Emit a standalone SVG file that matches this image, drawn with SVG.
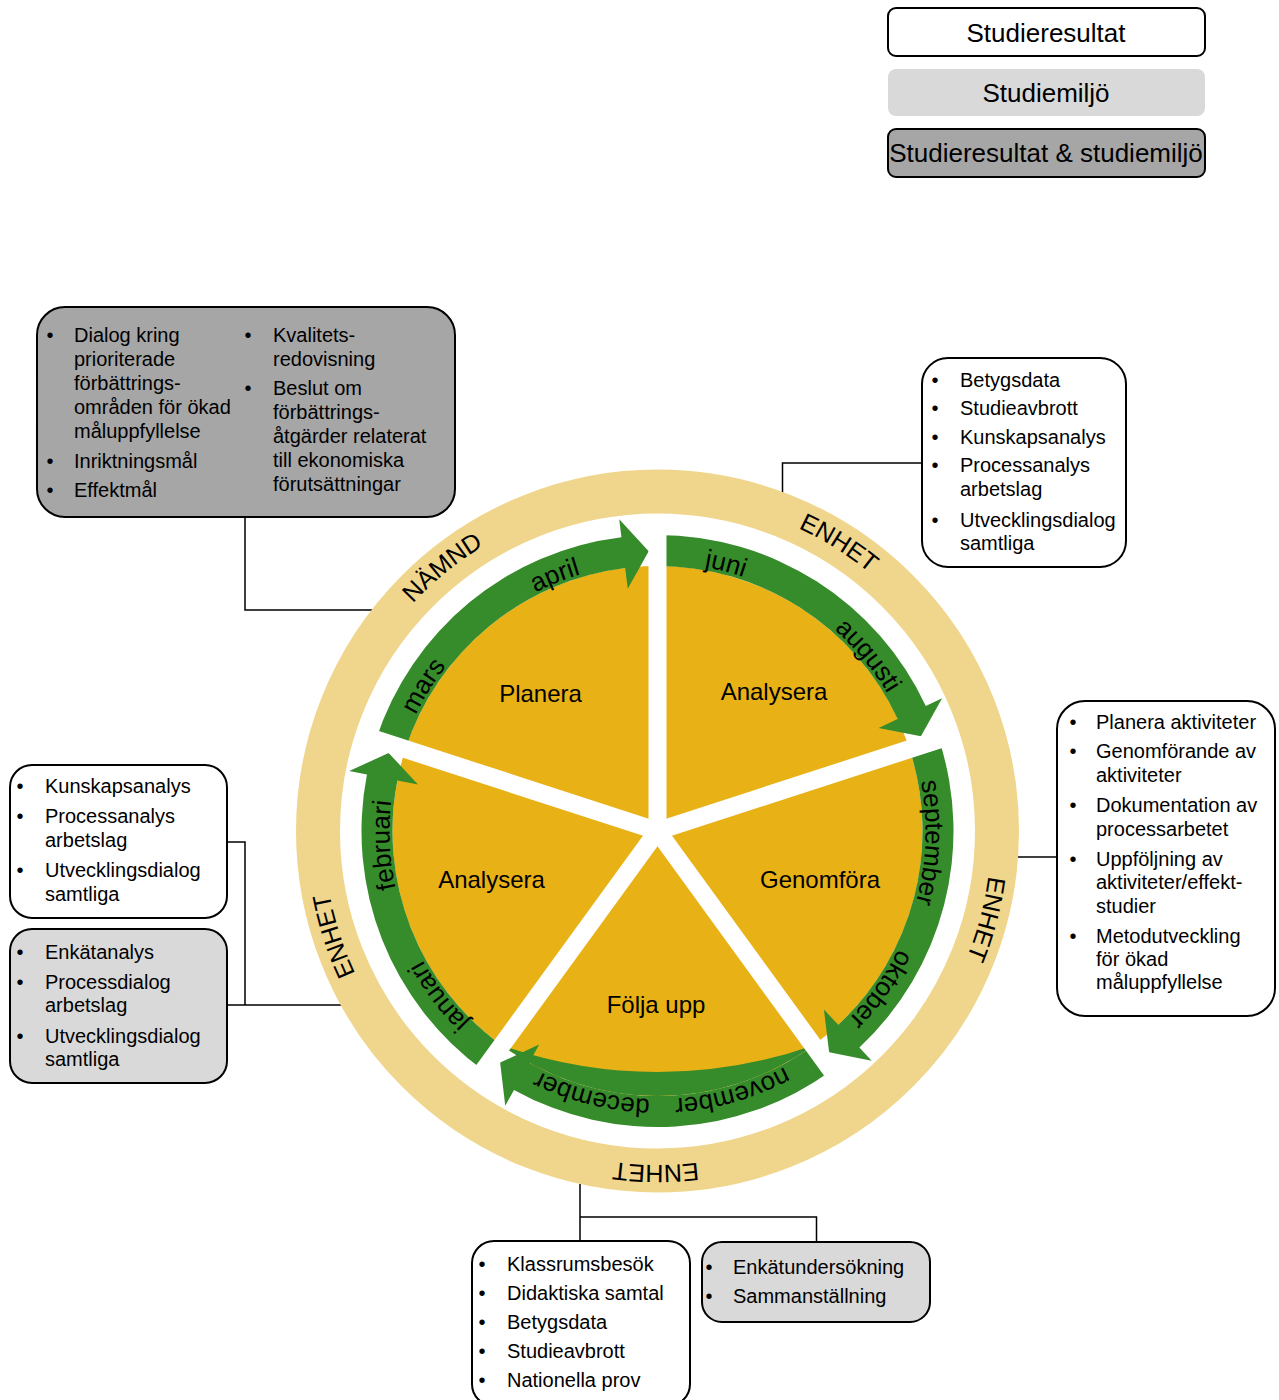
<svg xmlns="http://www.w3.org/2000/svg" width="1279" height="1400" viewBox="0 0 1279 1400">
<defs>
<style>
text { font-family: "Liberation Sans", Arial, sans-serif; fill: #000; }
.box { stroke: #000; stroke-width: 2; }
.t20 { font-size: 20px; }
.bul { font-size: 20px; text-anchor: middle; }
.conn { fill: none; stroke: #000; stroke-width: 1.5; }
.ring { font-size: 25px; text-anchor: middle; }
.mon { font-size: 26px; text-anchor: middle; }
.seg { font-size: 24px; text-anchor: middle; }
.leg { font-size: 26px; text-anchor: middle; }
.spoke { stroke: #fff; stroke-width: 18; }
</style>
<path id="ringPath" d="M657.5,497 A334,334 0 1 1 657.5,1165 A334,334 0 1 1 657.5,497"/>
<path id="monPath" d="M657.5,563 A268,268 0 1 1 657.5,1099 A268,268 0 1 1 657.5,563"/>
<path id="arrow" fill="#368B2A" d="M657.5,535 A296,296 0 0 1 925.77,705.90 L942.08,698.30 L920.95,736.15 L878.64,727.88 L897.67,719.00 A265,265 0 0 0 657.5,566 Z"/>
</defs>
<rect x="0" y="0" width="1279" height="1400" fill="#fff"/>

<g id="connectors">
<path class="conn" d="M245,517 V610 H372"/>
<path class="conn" d="M922,463 H782.5 V493"/>
<path class="conn" d="M1018,857 H1057"/>
<path class="conn" d="M227,842 H245 V1005 M227,1005 H341"/>
<path class="conn" d="M580,1184 V1241 M580,1217 H816.5 V1242"/>
</g>

<g id="wheel">
<circle cx="657.5" cy="831" r="339.5" fill="none" stroke="#F0D68C" stroke-width="44"/>
<circle cx="657.5" cy="831" r="265" fill="#E8B116"/>
<use href="#arrow"/>
<use href="#arrow" transform="rotate(72 657.5 831)"/>
<use href="#arrow" transform="rotate(144 657.5 831)"/>
<use href="#arrow" transform="rotate(216 657.5 831)"/>
<use href="#arrow" transform="rotate(288 657.5 831)"/>
<path fill="#368B2A" d="M813.26,1045.39 A265,265 0 0 1 501.74,1045.39 A469.2,469.2 0 0 0 813.26,1045.39 Z"/>
<line class="spoke" x1="657.5" y1="831" x2="657.5" y2="515"/>
<line class="spoke" x1="657.5" y1="831" x2="958.03" y2="733.35"/>
<line class="spoke" x1="657.5" y1="831" x2="843.24" y2="1086.65"/>
<line class="spoke" x1="657.5" y1="831" x2="471.76" y2="1086.65"/>
<line class="spoke" x1="657.5" y1="831" x2="356.97" y2="733.35"/>
<text class="ring"><textPath href="#ringPath" startOffset="89.11%">NÄMND</textPath></text>
<text class="ring"><textPath href="#ringPath" startOffset="8.94%">ENHET</textPath></text>
<text class="ring"><textPath href="#ringPath" startOffset="29.17%">ENHET</textPath></text>
<text class="ring"><textPath href="#ringPath" startOffset="50.08%">ENHET</textPath></text>
<text class="ring"><textPath href="#ringPath" startOffset="70%">ENHET</textPath></text>
<text class="mon"><textPath href="#monPath" startOffset="83.83%">mars</textPath></text>
<text class="mon"><textPath href="#monPath" startOffset="93.92%">april</textPath></text>
<text class="mon"><textPath href="#monPath" startOffset="4%">juni</textPath></text>
<text class="mon"><textPath href="#monPath" startOffset="13.94%">augusti</textPath></text>
<text class="mon"><textPath href="#monPath" startOffset="25.67%">september</textPath></text>
<text class="mon"><textPath href="#monPath" startOffset="34.81%">oktober</textPath></text>
<text class="mon"><textPath href="#monPath" startOffset="45.56%">november</textPath></text>
<text class="mon"><textPath href="#monPath" startOffset="53.89%">december</textPath></text>
<text class="mon"><textPath href="#monPath" startOffset="64.69%">januari</textPath></text>
<text class="mon"><textPath href="#monPath" startOffset="74.17%">februari</textPath></text>
</g>

<g id="sector-planera"><text class="seg" x="540.5" y="702">Planera</text></g>
<g id="sector-analysera-1"><text class="seg" x="774" y="700">Analysera</text></g>
<g id="sector-genomfora"><text class="seg" x="820" y="888">Genomföra</text></g>
<g id="sector-folja-upp"><text class="seg" x="656" y="1013">Följa upp</text></g>
<g id="sector-analysera-2"><text class="seg" x="491.5" y="888">Analysera</text></g>

<g id="legend-studieresultat">
<rect class="box" x="888" y="8" width="317" height="48" rx="8" fill="#fff"/>
<text class="leg" x="1046" y="42">Studieresultat</text>
</g>
<g id="legend-studiemiljo">
<rect x="888" y="69" width="317" height="47" rx="8" fill="#D9D9D9"/>
<text class="leg" x="1046" y="102">Studiemiljö</text>
</g>
<g id="legend-both">
<rect class="box" x="888" y="129" width="317" height="48" rx="8" fill="#A6A6A6"/>
<text class="leg" x="1046" y="162">Studieresultat &amp; studiemiljö</text>
</g>

<g id="box-namnd">
<rect class="box" x="37" y="307" width="418" height="210" rx="28" fill="#A6A6A6"/>
<text class="bul" x="50" y="342">•</text>
<text class="t20" x="74" y="342">Dialog kring</text>
<text class="t20" x="74" y="366">prioriterade</text>
<text class="t20" x="74" y="390">förbättrings-</text>
<text class="t20" x="74" y="414">områden för ökad</text>
<text class="t20" x="74" y="438">måluppfyllelse</text>
<text class="bul" x="50" y="467.5">•</text>
<text class="t20" x="74" y="467.5">Inriktningsmål</text>
<text class="bul" x="50" y="496.5">•</text>
<text class="t20" x="74" y="496.5">Effektmål</text>
<text class="bul" x="248" y="342">•</text>
<text class="t20" x="273" y="342">Kvalitets-</text>
<text class="t20" x="273" y="366">redovisning</text>
<text class="bul" x="248" y="395">•</text>
<text class="t20" x="273" y="395">Beslut om</text>
<text class="t20" x="273" y="419">förbättrings-</text>
<text class="t20" x="273" y="443">åtgärder relaterat</text>
<text class="t20" x="273" y="467">till ekonomiska</text>
<text class="t20" x="273" y="491">förutsättningar</text>
</g>

<g id="box-right-top">
<rect class="box" x="922" y="358" width="204" height="209" rx="26" fill="#fff"/>
<text class="bul" x="935" y="386.5">•</text>
<text class="t20" x="960" y="386.5">Betygsdata</text>
<text class="bul" x="935" y="415">•</text>
<text class="t20" x="960" y="415">Studieavbrott</text>
<text class="bul" x="935" y="444">•</text>
<text class="t20" x="960" y="444">Kunskapsanalys</text>
<text class="bul" x="935" y="472">•</text>
<text class="t20" x="960" y="472">Processanalys</text>
<text class="t20" x="960" y="495.5">arbetslag</text>
<text class="bul" x="935" y="526.5">•</text>
<text class="t20" x="960" y="526.5">Utvecklingsdialog</text>
<text class="t20" x="960" y="550">samtliga</text>
</g>

<g id="box-right">
<rect class="box" x="1057" y="701" width="218" height="315" rx="28" fill="#fff"/>
<text class="bul" x="1073" y="728.5">•</text>
<text class="t20" x="1096" y="728.5">Planera aktiviteter</text>
<text class="bul" x="1073" y="758">•</text>
<text class="t20" x="1096" y="758">Genomförande av</text>
<text class="t20" x="1096" y="781.5">aktiviteter</text>
<text class="bul" x="1073" y="811.5">•</text>
<text class="t20" x="1096" y="811.5">Dokumentation av</text>
<text class="t20" x="1096" y="835.5">processarbetet</text>
<text class="bul" x="1073" y="865.5">•</text>
<text class="t20" x="1096" y="865.5">Uppföljning  av</text>
<text class="t20" x="1096" y="889">aktiviteter/effekt-</text>
<text class="t20" x="1096" y="912.5">studier</text>
<text class="bul" x="1073" y="942.5">•</text>
<text class="t20" x="1096" y="942.5">Metodutveckling</text>
<text class="t20" x="1096" y="966">för ökad</text>
<text class="t20" x="1096" y="989">måluppfyllelse</text>
</g>

<g id="box-left-top">
<rect class="box" x="10" y="765" width="217" height="153" rx="22" fill="#fff"/>
<text class="bul" x="20" y="793">•</text>
<text class="t20" x="45" y="793">Kunskapsanalys</text>
<text class="bul" x="20" y="823">•</text>
<text class="t20" x="45" y="823">Processanalys</text>
<text class="t20" x="45" y="846.5">arbetslag</text>
<text class="bul" x="20" y="877">•</text>
<text class="t20" x="45" y="877">Utvecklingsdialog</text>
<text class="t20" x="45" y="900.5">samtliga</text>
</g>

<g id="box-left-bottom">
<rect class="box" x="10" y="929" width="217" height="154" rx="22" fill="#D9D9D9"/>
<text class="bul" x="20" y="958.5">•</text>
<text class="t20" x="45" y="958.5">Enkätanalys</text>
<text class="bul" x="20" y="988.5">•</text>
<text class="t20" x="45" y="988.5">Processdialog</text>
<text class="t20" x="45" y="1011.5">arbetslag</text>
<text class="bul" x="20" y="1042.5">•</text>
<text class="t20" x="45" y="1042.5">Utvecklingsdialog</text>
<text class="t20" x="45" y="1065.5">samtliga</text>
</g>

<g id="box-bottom-left">
<rect class="box" x="472" y="1241" width="218" height="165" rx="22" fill="#fff"/>
<text class="bul" x="482" y="1271">•</text>
<text class="t20" x="507" y="1271">Klassrumsbesök</text>
<text class="bul" x="482" y="1300">•</text>
<text class="t20" x="507" y="1300">Didaktiska samtal</text>
<text class="bul" x="482" y="1329">•</text>
<text class="t20" x="507" y="1329">Betygsdata</text>
<text class="bul" x="482" y="1358">•</text>
<text class="t20" x="507" y="1358">Studieavbrott</text>
<text class="bul" x="482" y="1387">•</text>
<text class="t20" x="507" y="1387">Nationella prov</text>
</g>

<g id="box-bottom-right">
<rect class="box" x="702" y="1242" width="228" height="80" rx="20" fill="#D9D9D9"/>
<text class="bul" x="709" y="1273.5">•</text>
<text class="t20" x="733" y="1273.5">Enkätundersökning</text>
<text class="bul" x="709" y="1303">•</text>
<text class="t20" x="733" y="1303">Sammanställning</text>
</g>
</svg>
